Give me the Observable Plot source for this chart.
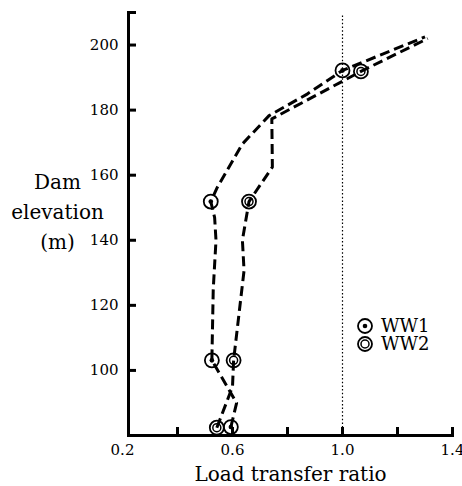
<!DOCTYPE html>
<html><head><meta charset="utf-8">
<script src="https://cdn.jsdelivr.net/npm/d3@7"></script>
<script src="https://cdn.jsdelivr.net/npm/@observablehq/plot@0.6"></script>
<style>
html,body{margin:0;padding:0;background:#fff;}
#chart{position:relative;width:462px;height:486px;}
.leg{position:absolute;font-family:"DejaVu Serif";font-size:18px;line-height:18px;color:#000;white-space:nowrap;}
.legsym{position:absolute;}
</style></head><body><div id="chart"></div>
<script>
// Series: WW1 dashed line (elevation in m, load transfer ratio)
const ww1LineRatio = [0.594, 0.615, 0.525, 0.53, 0.54, 0.535, 0.521, 0.545, 0.636, 0.733, 0.873, 1.00, 1.30];
const ww1LineElev  = [82.6, 90, 103.1, 125, 140, 147, 151.9, 156.3, 169.6, 178.3, 185.0, 192.2, 202.5];
// Series: WW2 dashed line
const ww2LineRatio = [0.543, 0.60, 0.604, 0.642, 0.636, 0.66, 0.745, 0.743, 1.067, 1.31];
const ww2LineElev  = [82.4, 95, 103.1, 130.7, 140, 151.9, 162.5, 177.3, 191.9, 202];
// Measured points
const ww1PtRatio = [0.594, 0.525, 0.521, 1.00];
const ww1PtElev  = [82.6, 103.1, 151.9, 192.2];
const ww2PtRatio = [0.543, 0.604, 0.66, 1.067];
const ww2PtElev  = [82.4, 103.1, 151.9, 191.9];
// Reference line
const refRatio = [1.0];
// Axes
const yTickLabels = [100, 120, 140, 160, 180, 200];
const yTickMarks = [100, 120, 140, 160, 180, 200, 210];
const xTickLabels = [0.2, 0.6, 1.0, 1.4];
const xTickMarks = [0.4, 0.6, 0.8, 1.0, 1.2, 1.4];
const xTitle = "Load transfer ratio";
const yTitle = "Dam\nelevation\n(m)";
const seriesNames = ["WW1", "WW2"];

const zip = (xs, ys) => xs.map((x, i) => ({x, y: ys[i]}));
const ww1Line = zip(ww1LineRatio, ww1LineElev);
const ww2Line = zip(ww2LineRatio, ww2LineElev);
const ww1Pts = zip(ww1PtRatio, ww1PtElev);
const ww2Pts = zip(ww2PtRatio, ww2PtElev);

const dash = {stroke: "black", strokeWidth: 3, strokeDasharray: "10,5", strokeLinecap: "butt"};

const chart = Plot.plot({
  width: 462, height: 486,
  marginLeft: 128, marginRight: 10, marginTop: 12, marginBottom: 51,
  style: {fontFamily: "DejaVu Serif", fontSize: "15px", color: "black", background: "white", overflow: "visible"},
  x: {domain: [0.2, 1.4], range: [122, 452]},
  y: {domain: [80, 210]},
  marks: [
    Plot.ruleX(refRatio, {x: d => d, y1: 80, y2: 209, stroke: "black", strokeWidth: 1.2, strokeDasharray: "1.5,2.2"}),
    Plot.line(ww1Line, {x: "x", y: "y", ...dash}),
    Plot.line(ww2Line, {x: "x", y: "y", ...dash}),
    Plot.dot(ww1Pts, {x: "x", y: "y", r: 7, stroke: "black", strokeWidth: 1.8, fill: "none"}),
    Plot.dot(ww1Pts, {x: "x", y: "y", r: 2.3, fill: "black"}),
    Plot.dot(ww2Pts, {x: "x", y: "y", r: 7, stroke: "black", strokeWidth: 1.8, fill: "none"}),
    Plot.dot(ww2Pts, {x: "x", y: "y", r: 4, stroke: "black", strokeWidth: 1.5, fill: "none"}),
    Plot.frame({anchor: "left", stroke: "black", strokeWidth: 3}),
    Plot.frame({anchor: "bottom", stroke: "black", strokeWidth: 3}),
    Plot.tickY(yTickMarks, {y: d => d, insetRight: 316, stroke: "black", strokeWidth: 3}),
    Plot.tickX(xTickMarks, {x: d => d, insetTop: 415, stroke: "black", strokeWidth: 3}),
    Plot.axisY({ticks: yTickLabels, tickSize: 0, tickPadding: 10, label: null, fontSize: 15}),
    Plot.axisX({ticks: xTickLabels, tickSize: 0, tickPadding: 9, label: null, fontSize: 15, tickFormat: d3.format(".1f")}),
    Plot.text([xTitle], {text: d => d, frameAnchor: "bottom", dy: 45, lineAnchor: "bottom", fontSize: 20}),
    Plot.text([yTitle], {text: d => d, frameAnchor: "left", dx: -71, dy: -15, lineHeight: 1.5, textAnchor: "middle", fontSize: 20})
  ]
});
const root = document.getElementById("chart");
root.appendChild(chart);

// Legend
const legY = [325.7, 344];
seriesNames.forEach((name, i) => {
  const s = d3.select(root).append("svg").attr("class", "legsym")
    .attr("width", 20).attr("height", 20)
    .style("left", (365 - 10) + "px").style("top", (legY[i] - 10) + "px");
  s.append("circle").attr("cx", 10).attr("cy", 10).attr("r", 7).attr("fill", "none").attr("stroke", "black").attr("stroke-width", 1.8);
  if (i === 0) s.append("circle").attr("cx", 10).attr("cy", 10).attr("r", 2.3).attr("fill", "black");
  else s.append("circle").attr("cx", 10).attr("cy", 10).attr("r", 4).attr("fill", "none").attr("stroke", "black").attr("stroke-width", 1.5);
  d3.select(root).append("div").attr("class", "leg")
    .style("left", "381px").style("top", (legY[i] - 9) + "px").text(name);
});
</script>
</body></html>
